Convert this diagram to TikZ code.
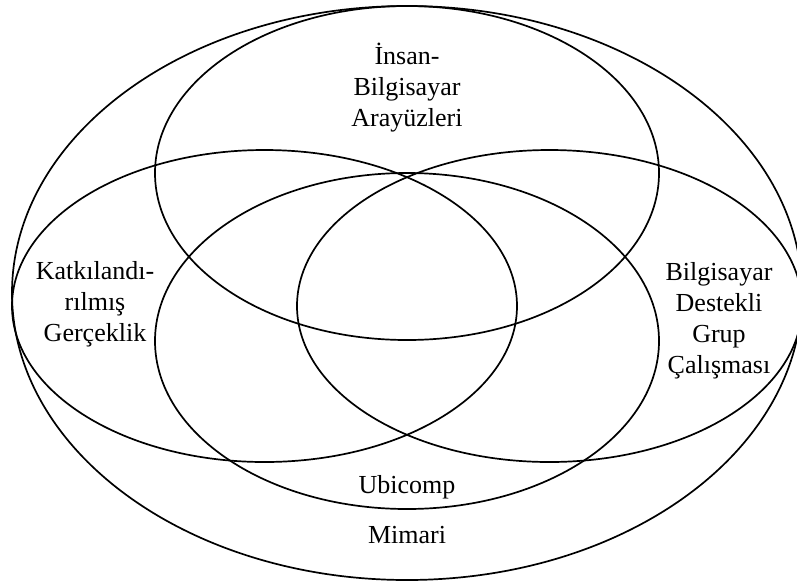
\documentclass[tikz,border=0pt]{standalone}
\usepackage{fontspec}
\setmainfont{Liberation Serif}
\usepackage{tikz}
\usetikzlibrary{positioning}

\begin{document}
\begin{tikzpicture}[x=1pt, y=-1pt,
      set/.style={draw=black, line width=1.7pt},
      lbl/.style={draw=none, inner sep=0pt, align=center,
                  font=\fontsize{26pt}{31pt}\selectfont}]
    \useasboundingbox (0,0) rectangle (797,582);

    % the sets
    \draw[set] (407,293) ellipse [x radius=395, y radius=287];
    \draw[set] (407,173) ellipse [x radius=252, y radius=167];
    \draw[set] (264.5,306) ellipse [x radius=252.5, y radius=156];
    \draw[set] (549.5,306) ellipse [x radius=252.5, y radius=156];
    \draw[set] (407,341) ellipse [x radius=252, y radius=168];

    % labels
    \node[lbl] (hci) at (407,88) {İnsan-\\Bilgisayar\\Arayüzleri};
    \node[lbl] (ar) at (95,304) {Katkılandı-\\rılmış\\Gerçeklik};
    \node[lbl] (cscw) at (719,321) {Bilgisayar\\Destekli\\Grup\\Çalışması};
    \node[lbl, anchor=base] (ubi) at (407,493) {Ubicomp};
    \node[lbl, anchor=base] (arch) at (407,543) {Mimari};
\end{tikzpicture}
\end{document}
